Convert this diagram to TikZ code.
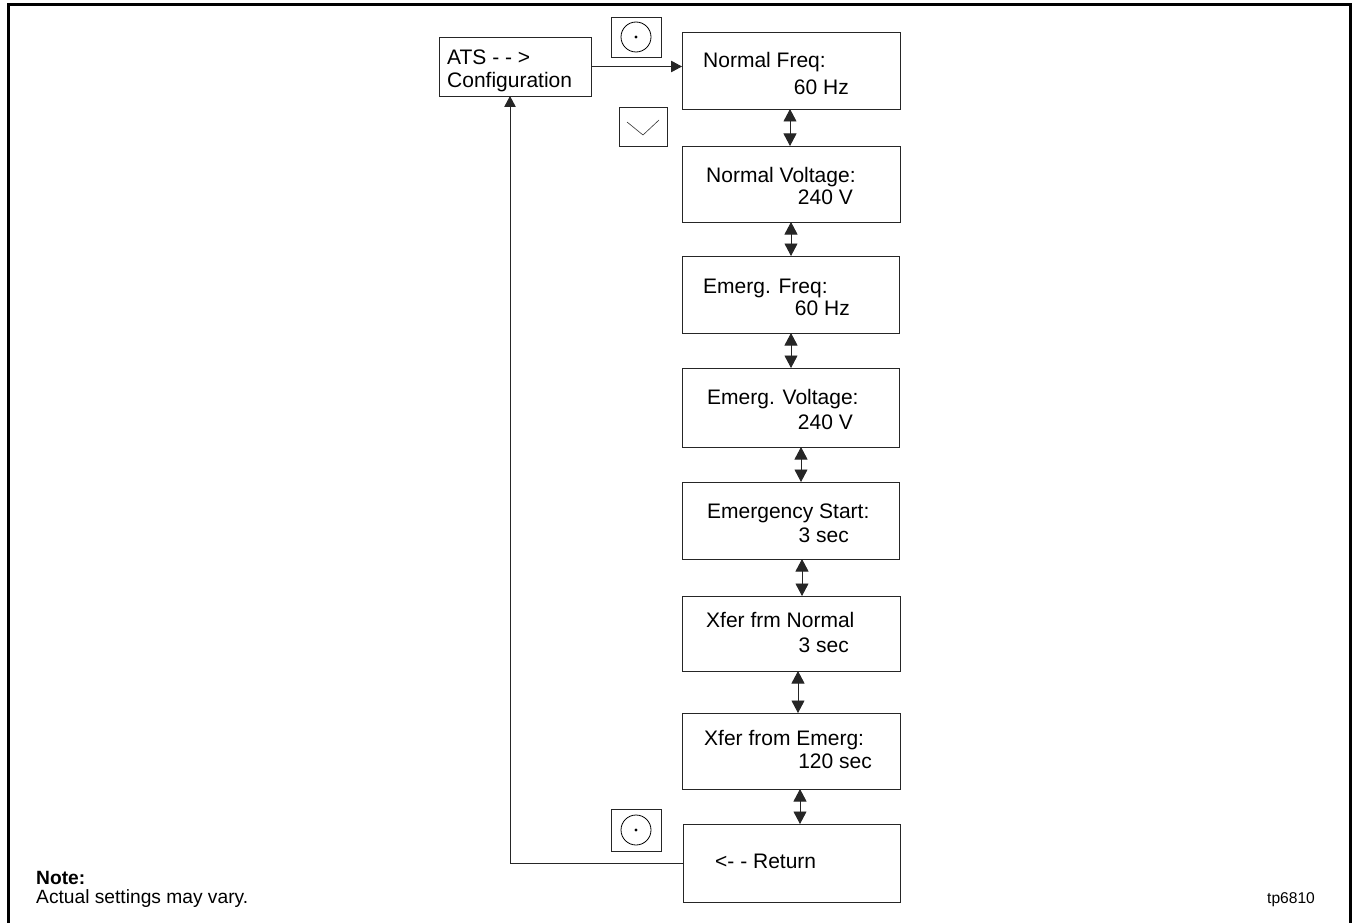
\documentclass[tikz,border=0pt]{standalone}
\usepackage{fontspec}
\setmainfont{Liberation Sans}
\usetikzlibrary{arrows.meta,calc}
\begin{document}
\begin{tikzpicture}[x=1pt,y=-1pt,
  box/.style={draw=black!85,line width=0.9pt,inner sep=0pt,outer sep=0pt,anchor=north west},
  txt/.style={inner sep=0pt,font=\fontsize{21}{24}\selectfont},
  conn/.style={line width=0.9pt,draw=black!85},
  dbl/.style={conn,{Triangle[length=12.5pt,width=13pt]}-{Triangle[length=12.5pt,width=13pt]}},
  sgl/.style={conn,-{Triangle[length=11pt,width=11.5pt]}}]
\useasboundingbox (0,0) rectangle (1354,923);
% frame
\draw[line width=3pt] (8,930) -- (8,5) -- (1350,5) -- (1350,930);
% boxes
\node[box,minimum width=152pt,minimum height=59pt] (ats) at (439,37) {};
\node[box,minimum width=218pt,minimum height=77pt] (nf) at (682,32) {};
\node[box,minimum width=218pt,minimum height=76pt] (nv) at (682,146) {};
\node[box,minimum width=217pt,minimum height=77pt] (ef) at (682,256) {};
\node[box,minimum width=217pt,minimum height=79pt] (ev) at (682,368) {};
\node[box,minimum width=217pt,minimum height=77pt] (es) at (682,482) {};
\node[box,minimum width=218pt,minimum height=75pt] (xn) at (682,596) {};
\node[box,minimum width=218pt,minimum height=76pt] (xe) at (682,713) {};
\node[box,minimum width=217pt,minimum height=78pt] (rt) at (683,824) {};
% buttons
\node[box,minimum width=50pt,minimum height=40pt] (b1) at (611,17) {};
\draw[line width=0.8pt] (b1.center) circle (15);
\fill (b1.center) circle (1.6);
\node[box,minimum width=48pt,minimum height=39pt] (b2) at (619,107) {};
\draw[line width=0.6pt,black!80] ($(b2.center)+(-16,-4.5)$) -- ($(b2.center)+(0,8.5)$) -- ($(b2.center)+(16,-6.5)$);
\node[box,minimum width=50pt,minimum height=42pt] (b3) at (611,809) {};
\draw[line width=0.8pt] (b3.center) circle (15);
\fill (b3.center) circle (1.6);
% texts
\node[txt,anchor=base west] (t1a) at (447,65) {ATS - - >};
\node[txt,anchor=base west] (t1b) at (447,88) {Configuration};
\node[txt,anchor=base west] (t2a) at (703,68) {Normal Freq:};
\node[txt,anchor=base east] (t2b) at (849,95) {60 Hz};
\node[txt,anchor=base west] (t3a) at (706,182) {Normal Voltage:};
\node[txt,anchor=base east] (t3b) at (853,204) {240 V};
\node[txt,anchor=base west] (t4a) at (703,293) {Emerg. Freq:};
\node[txt,anchor=base east] (t4b) at (850,315) {60 Hz};
\node[txt,anchor=base west] (t5a) at (707,404) {Emerg. Voltage:};
\node[txt,anchor=base east] (t5b) at (853,429) {240 V};
\node[txt,anchor=base west] (t6a) at (707,518) {Emergency Start:};
\node[txt,anchor=base east] (t6b) at (849,542) {3 sec};
\node[txt,anchor=base west] (t7a) at (706,627) {Xfer frm Normal};
\node[txt,anchor=base east] (t7b) at (849,652) {3 sec};
\node[txt,anchor=base west] (t8a) at (704,745) {Xfer from Emerg:};
\node[txt,anchor=base east] (t8b) at (872,768) {120 sec};
\node[txt,anchor=base west] (t9) at (715,868) {<- - Return};
\node[inner sep=0pt,anchor=base west,font=\fontsize{19.2}{22}\selectfont\bfseries] (n1) at (36,884) {Note:};
\node[inner sep=0pt,anchor=base west,font=\fontsize{19.2}{22}\selectfont] (n2) at (36,903) {Actual settings may vary.};
\node[inner sep=0pt,anchor=base west,font=\fontsize{15.6}{18}\selectfont] (tp) at (1267,903) {tp6810};
% connectors
\draw[sgl] (ats.east) -- (ats.east -| nf.west);
\draw[dbl] ($(nf.south west)+(108,0)$) -- ($(nv.north west)+(108,0)$);
\draw[dbl] ($(nv.south west)+(109,0)$) -- ($(ef.north west)+(109,0)$);
\draw[dbl] ($(ef.south west)+(109,0)$) -- ($(ev.north west)+(109,0)$);
\draw[dbl] ($(ev.south west)+(119,0)$) -- ($(es.north west)+(119,0)$);
\draw[dbl] ($(es.south west)+(120,0)$) -- ($(xn.north west)+(120,0)$);
\draw[dbl] ($(xn.south west)+(116,0)$) -- ($(xe.north west)+(116,0)$);
\draw[dbl] ($(xe.south west)+(118,0)$) -- ($(rt.north west)+(117,0)$);
\coordinate (rc) at (510,863);
\draw[sgl] (rt.west) -- (rc) -- (rc |- ats.south);
\end{tikzpicture}
\end{document}
